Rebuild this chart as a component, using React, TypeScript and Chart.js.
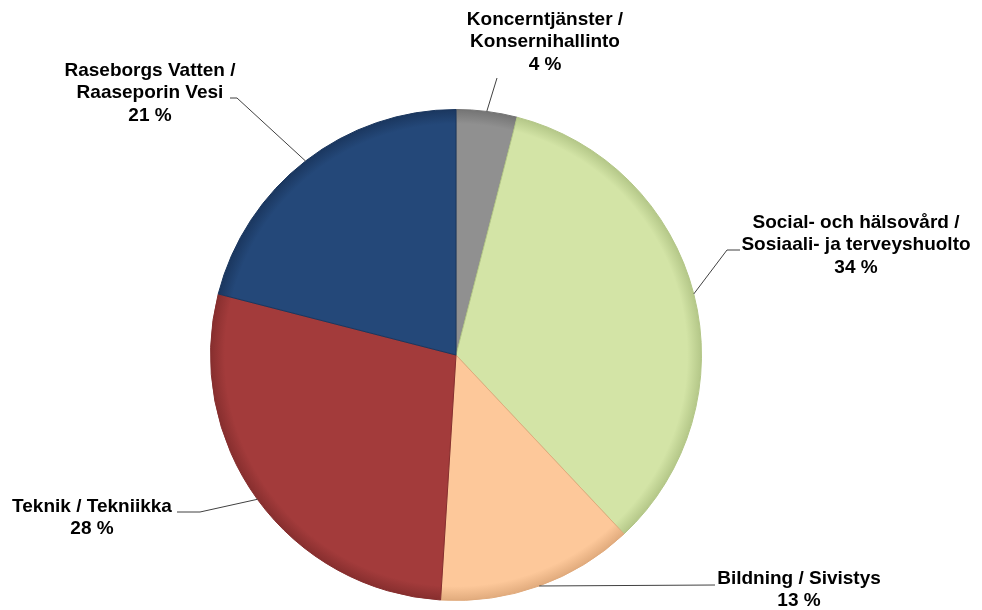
import React, { useEffect, useRef } from "react";
import { Chart, registerables } from "chart.js";

Chart.register(...registerables);

const categories = [
  ["Koncerntjänster /", "Konsernihallinto"],
  ["Social- och hälsovård /", "Sosiaali- ja terveyshuolto"],
  ["Bildning / Sivistys"],
  ["Teknik / Tekniikka"],
  ["Raseborgs Vatten /", "Raaseporin Vesi"],
];
const shares = [4, 34, 13, 28, 21];
const baseColors = ["#909090", "#d3e4a6", "#fdc89a", "#a33b3b", "#244879"];
const edgeColors = ["#737373", "#b3c687", "#e0aa7c", "#862e2e", "#1a365e"];

// label layout: elbow point, line end, text centre (offsets from pie centre in px)
const labelLayout = [
  { elbow: [41, -277], end: [41, -277], text: [89, -313] },
  { elbow: [271, -105], end: [284, -105], text: [400, -110] },
  { elbow: [259, 230], end: [259, 230], text: [343, 235] },
  { elbow: [-256, 157], end: [-279, 157], text: [-364, 163] },
  { elbow: [-219, -257], end: [-226, -257], text: [-306, -262] },
];

const labelPlugin = {
  id: "pieLabels",
  afterDatasetsDraw(chart: any) {
    const ctx = chart.ctx;
    const meta = chart.getDatasetMeta(0);
    ctx.save();
    meta.data.forEach((arc: any, i: number) => {
      const { x, y, startAngle, endAngle, outerRadius } = arc.getProps(
        ["x", "y", "startAngle", "endAngle", "outerRadius"],
        true
      );
      const mid = (startAngle + endAngle) / 2;
      const ax = x + Math.cos(mid) * outerRadius;
      const ay = y + Math.sin(mid) * outerRadius;
      const L = labelLayout[i];
      ctx.strokeStyle = "#404040";
      ctx.lineWidth = 1;
      ctx.beginPath();
      ctx.moveTo(ax, ay);
      ctx.lineTo(x + L.elbow[0], y + L.elbow[1]);
      ctx.lineTo(x + L.end[0], y + L.end[1]);
      ctx.stroke();
      const lines = [...categories[i], `${shares[i]} %`];
      ctx.fillStyle = "#000";
      ctx.font = "bold 19px 'Liberation Sans', Arial, sans-serif";
      ctx.textAlign = "center";
      ctx.textBaseline = "middle";
      const lh = 22.5;
      const top = y + L.text[1] - ((lines.length - 1) * lh) / 2;
      lines.forEach((t, k) => ctx.fillText(t, x + L.text[0], top + k * lh));
    });
    ctx.restore();
  },
};

export default function App() {
  const ref = useRef<HTMLCanvasElement>(null);
  useEffect(() => {
    document.body.style.margin = "0";
    const shade = (c: any) => {
      const i = c.dataIndex ?? 0;
      const chart = c.chart;
      const area = chart.chartArea;
      if (!area) return baseColors[i];
      const cx = (area.left + area.right) / 2;
      const cy = (area.top + area.bottom) / 2;
      const r = Math.min(area.right - area.left, area.bottom - area.top) / 2;
      const g = chart.ctx.createRadialGradient(cx, cy, 0, cx, cy, r);
      g.addColorStop(0, baseColors[i]);
      g.addColorStop(0.94, baseColors[i]);
      g.addColorStop(1, edgeColors[i]);
      return g;
    };
    const chart = new Chart(ref.current!, {
      type: "pie",
      data: {
        labels: categories.map((c) => c.join(" ")),
        datasets: [
          {
            data: shares,
            backgroundColor: shade as any,
            borderColor: edgeColors,
            borderWidth: 1,
          },
        ],
      },
      options: {
        animation: false,
        responsive: false,
        maintainAspectRatio: false,
        layout: { padding: { top: 109, bottom: 9, left: 0, right: 70 } },
        plugins: { legend: { display: false }, tooltip: { enabled: false } },
      },
      plugins: [labelPlugin],
    });
    return () => chart.destroy();
  }, []);
  return (
    <div style={{ position: "absolute", left: 0, top: 0, width: 982, height: 610, background: "#fff" }}>
      <canvas ref={ref} width={982} height={610} />
    </div>
  );
}
